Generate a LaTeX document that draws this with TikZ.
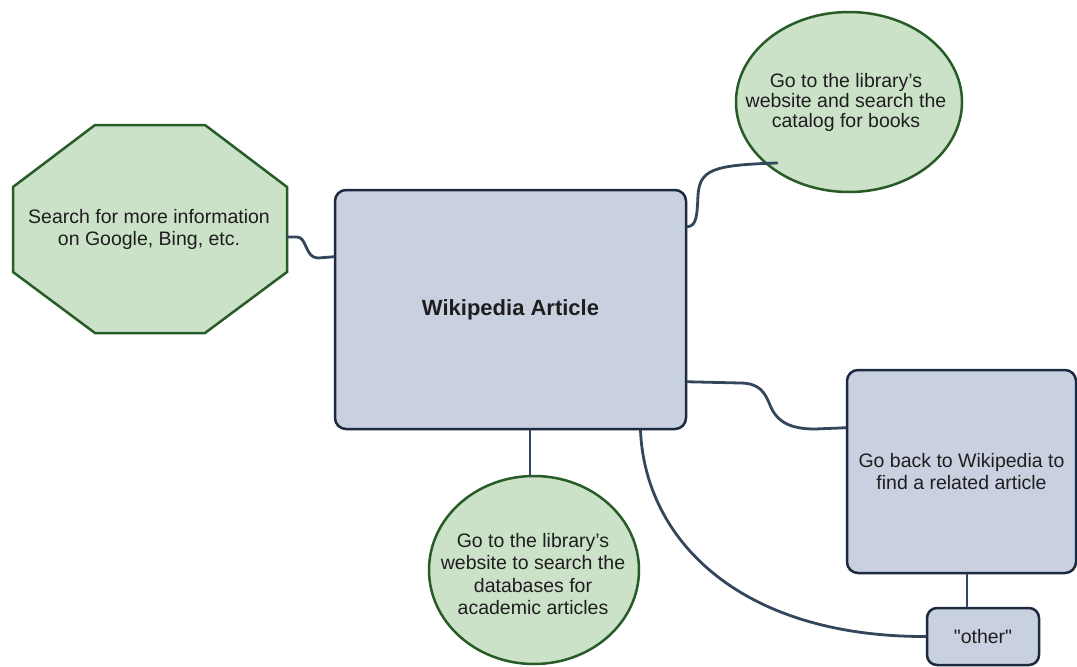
\documentclass[tikz,border=0pt]{standalone}
\usepackage{fontspec}
\setmainfont{Liberation Sans}
\newfontfamily\plainq{Liberation Sans}[Ligatures=TeXOff]
\usetikzlibrary{shapes.geometric,calc}
\definecolor{gfill}{HTML}{CCE2C8}
\definecolor{gline}{HTML}{285C27}
\definecolor{bfill}{HTML}{C9D1E1}
\definecolor{bline}{HTML}{1C2A40}
\definecolor{conn}{HTML}{34465C}
\definecolor{txtc}{HTML}{1E1E1E}
\tikzset{
  greenshape/.style={fill=gfill, draw=gline, line width=2.5pt, line join=miter},
  greenell/.style={ellipse, fill=gfill, draw=gline, line width=2.5pt, inner sep=0pt},
  bluebox/.style={rectangle, rounded corners=11pt, fill=bfill, draw=bline, line width=2.5pt, inner sep=0pt, align=center, text=txtc},
  txtnode/.style={align=center, text=txtc, inner sep=0pt},
  link/.style={draw=conn, line width=2.8pt, line cap=round}
}
\newcommand{\lbl}{\fontsize{19.5}{22}\selectfont}
\begin{document}
\begin{tikzpicture}[x=1pt,y=-1pt]
\useasboundingbox[fill=white] (0,0) rectangle (1077,667);
% octagon
\draw[greenshape] (95,125) -- (205,125) -- (287,187) -- (287,272) -- (205,333) -- (95,333) -- (13,272) -- (13,187) -- cycle;
\node[txtnode, font=\lbl] (oct) at (149,229) {Search for more information\\on Google, Bing, etc.};
\coordinate (octE) at (287,237);
% main nodes
\node[bluebox, minimum width=351pt, minimum height=239pt, font=\fontsize{22}{24}\selectfont\bfseries] (wiki) at (510.5,309.5) {Wikipedia Article};
\node[greenell, minimum width=226pt, minimum height=180pt] (cat) at (849,102) {};
\node[txtnode, font=\fontsize{19.5}{20}\selectfont] (cattxt) at (846,102) {Go to the library's\\website and search the\\catalog for books};
\node[bluebox, minimum width=229pt, minimum height=203pt, font=\lbl] (back) at (961.5,471.5) {Go back to Wikipedia to\\find a related article};
\node[greenell, minimum width=210pt, minimum height=188pt] (db) at (534,570) {};
\node[txtnode, font=\fontsize{19.5}{22.3}\selectfont] (dbtxt) at (533,574) {Go to the library's\\website to search the\\databases for\\academic articles};
\node[bluebox, rounded corners=10pt, minimum width=112pt, minimum height=57pt, font=\lbl\plainq] (other) at (983,636.5) {"other"};
% connectors
\draw[link] (octE) -- (297,237) .. controls (307,237) and (305,258) .. (318,258) -- ($(wiki.north west)+(0,68)$);
\draw[link] ($(wiki.north east)+(0,38)$) .. controls (697,226) and (697,215) .. (698,195) .. controls (700,170) and (712,165) .. ($(cat.center)+(-72,61)$);
\draw[link] ($(wiki.north east)+(0,193)$) -- (740,383) .. controls (760,383) and (765,393) .. (770,405) .. controls (777,423) and (792,429) .. (815,429) -- ($(back.north west)+(0,59)$);
\draw[link] ($(wiki.south)+(19.5,0)$) -- ($(db.north)+(-4,0)$);
\draw[link] ($(wiki.south)+(130,0)$) .. controls (645,540) and (740,637) .. (other.west);
\draw[link] ($(back.south)+(5.5,0)$) -- ($(other.north)+(-16,0)$);
\end{tikzpicture}
\end{document}
